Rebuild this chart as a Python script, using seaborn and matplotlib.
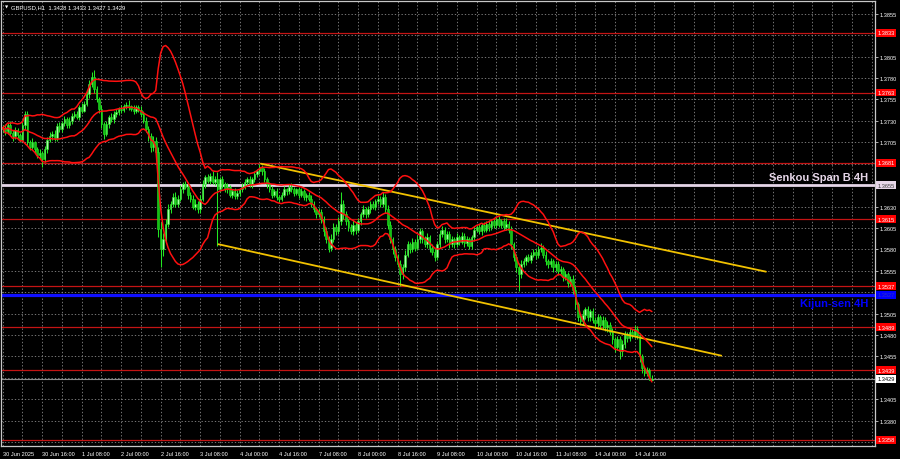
import numpy as np
import pandas as pd
import seaborn as sns
import matplotlib
matplotlib.use('Agg')
import matplotlib.pyplot as plt
import matplotlib.transforms as mtransforms

# GBPUSD H1, one bar per hour from 30 Jun 2025 00:00 (weekend skipped)
# closes as pips above 1.3000
close_pips = [
    722, 718, 725, 716, 712, 719, 714, 708, 725, 738,
    705, 700, 705, 697, 690, 693, 685, 697, 708, 712,
    715, 710, 724, 720, 728, 732, 725, 730, 736, 738,
    735, 746, 742, 750, 761, 773, 781, 767, 755, 744,
    726, 715, 726, 734, 732, 738, 740, 744, 743, 747,
    749, 747, 744, 742, 746, 743, 738, 730, 721, 712,
    699, 706, 694, 604, 580, 592, 610, 627, 633, 641,
    633, 639, 650, 656, 653, 644, 639, 630, 633, 627,
    639, 656, 664, 660, 666, 659, 662, 650, 662, 656,
    650, 653, 644, 648, 642, 646, 650, 653, 659, 662,
    656, 662, 668, 671, 676, 671, 662, 656, 650, 644,
    648, 641, 639, 644, 650, 648, 653, 650, 646, 650,
    644, 648, 641, 644, 639, 633, 627, 621, 624, 615,
    601, 592, 582, 592, 606, 601, 613, 633, 621, 613,
    606, 601, 609, 603, 613, 621, 627, 621, 627, 633,
    630, 636, 639, 633, 641, 627, 609, 592, 580, 571,
    563, 551, 559, 574, 586, 580, 589, 582, 592, 601,
    592, 586, 594, 582, 577, 571, 586, 598, 603, 592,
    598, 586, 592, 586, 594, 589, 596, 587, 592, 584,
    594, 603, 606, 601, 608, 603, 610, 606, 613, 608,
    615, 609, 613, 606, 610, 603, 586, 571, 559, 551,
    563, 566, 571, 568, 574, 577, 573, 580, 582, 574,
    566, 563, 566, 559, 563, 555, 557, 548, 551, 541,
    545, 533, 516, 501, 496, 504, 510, 501, 508, 498,
    494, 501, 492, 498, 489, 492, 484, 475, 466, 475,
    461, 469, 481, 477, 484, 480, 487, 480, 455, 441,
    436, 439, 428, 429,
]
first_open_pips = 720

# wick lengths in pips beyond the body
upper_wick = [
    3, 4, 2, 5, 3, 4, 3, 2, 6, 3,
    4, 3, 5, 2, 3, 4, 2, 4, 3, 5,
    3, 4, 3, 5, 2, 4, 3, 5, 3, 4,
    4, 3, 5, 3, 4, 5, 6, 8, 4, 3,
    5, 3, 4, 3, 5, 3, 4, 2, 4, 3,
    3, 5, 2, 4, 3, 2, 4, 3, 5, 3,
    4, 6, 5, 6, 8, 7, 5, 6, 4, 5,
    6, 4, 5, 3, 4, 5, 3, 4, 6, 3,
    4, 5, 3, 4, 3, 5, 4, 8, 3, 4,
    3, 4, 2, 3, 4, 3, 2, 4, 3, 3,
    4, 3, 4, 3, 4, 3, 4, 3, 3, 4,
    3, 4, 2, 3, 4, 2, 3, 4, 3, 2,
    3, 4, 3, 2, 3, 4, 3, 3, 4, 3,
    4, 5, 4, 6, 5, 4, 5, 14, 5, 4,
    3, 4, 5, 3, 4, 3, 5, 3, 4, 3,
    4, 3, 4, 3, 6, 4, 5, 4, 3, 4,
    4, 5, 4, 5, 4, 3, 4, 3, 5, 4,
    3, 4, 5, 3, 4, 3, 4, 5, 4, 3,
    4, 3, 4, 3, 5, 3, 4, 3, 4, 3,
    3, 4, 3, 4, 3, 4, 3, 4, 3, 4,
    3, 4, 3, 4, 7, 3, 4, 3, 4, 5,
    5, 4, 3, 4, 3, 4, 3, 4, 5, 3,
    4, 3, 4, 3, 4, 3, 4, 3, 4, 3,
    4, 5, 4, 3, 4, 5, 3, 4, 3, 4,
    3, 4, 3, 4, 3, 4, 3, 4, 3, 4,
    4, 5, 4, 3, 4, 3, 5, 4, 3, 3,
    3, 4, 2, 4,
]
lower_wick = [
    3, 4, 3, 2, 5, 3, 4, 3, 2, 4,
    3, 4, 3, 5, 3, 4, 9, 3, 4, 3,
    4, 3, 4, 3, 3, 4, 3, 3, 4, 3,
    3, 4, 3, 2, 3, 4, 3, 4, 3, 5,
    4, 6, 3, 4, 3, 4, 3, 3, 4, 3,
    3, 4, 3, 4, 3, 3, 4, 3, 4, 5,
    5, 4, 6, 10, 20, 8, 5, 4, 5, 3,
    4, 3, 3, 4, 3, 5, 4, 3, 4, 5,
    4, 3, 4, 3, 4, 3, 4, 66, 3, 4,
    3, 4, 3, 4, 3, 3, 4, 3, 3, 4,
    3, 4, 3, 3, 3, 4, 3, 4, 3, 4,
    3, 3, 4, 3, 3, 4, 3, 3, 4, 3,
    4, 3, 3, 4, 3, 4, 3, 4, 3, 4,
    5, 4, 5, 4, 3, 4, 3, 4, 5, 4,
    4, 3, 4, 5, 3, 4, 3, 4, 3, 4,
    3, 4, 3, 4, 3, 4, 5, 4, 5, 4,
    4, 14, 5, 4, 3, 4, 3, 4, 3, 4,
    4, 3, 4, 5, 4, 5, 3, 4, 3, 4,
    3, 4, 3, 4, 3, 4, 3, 4, 3, 4,
    3, 4, 3, 3, 4, 3, 3, 4, 3, 3,
    3, 3, 4, 3, 3, 4, 5, 4, 5, 20,
    4, 3, 4, 3, 4, 3, 4, 3, 3, 4,
    4, 5, 4, 5, 4, 5, 4, 5, 4, 5,
    4, 5, 6, 5, 4, 4, 5, 4, 5, 4,
    4, 5, 4, 5, 4, 5, 4, 5, 6, 4,
    9, 5, 4, 5, 4, 4, 3, 5, 6, 5,
    4, 4, 1, 1,
]

tick_pos = [0, 16, 32, 48, 64, 80, 96, 112, 128, 144, 160, 176, 192, 208, 224, 240, 256]
tick_text = ['30 Jun 2025', '30 Jun 16:00', '1 Jul 08:00', '2 Jul 00:00', '2 Jul 16:00',
             '3 Jul 08:00', '4 Jul 00:00', '4 Jul 16:00', '7 Jul 08:00', '8 Jul 00:00',
             '8 Jul 16:00', '9 Jul 08:00', '10 Jul 00:00', '10 Jul 16:00', '11 Jul 08:00',
             '14 Jul 00:00', '14 Jul 16:00']
# price grid; labels hidden where a level tag sits on top of them
price_ticks = [1.3355, 1.3380, 1.3405, 1.3430, 1.3455, 1.3480, 1.3505, 1.3530, 1.3555,
               1.3580, 1.3605, 1.3630, 1.3655, 1.3680, 1.3705, 1.3730, 1.3755, 1.3780,
               1.3805, 1.3830, 1.3855]
hidden_ticks = [1.3355, 1.3430, 1.3530, 1.3655, 1.3680, 1.3830]

red_levels = [1.3833, 1.3763, 1.3681, 1.3615, 1.3537, 1.3489, 1.3439, 1.3358]
senkou_b = 1.3655
kijun = 1.3527
last_price = 1.3429

# descending channel anchors (bar index, price)
chan_upper_x = [104.6, 309.2]
chan_upper_y = [1.3680, 1.3554]
chan_lower_x = [87.4, 291.1]
chan_lower_y = [1.3586, 1.3456]

# ---- build candles
df = pd.DataFrame({'bar': np.arange(len(close_pips)),
                   'close': 1.3 + np.array(close_pips) / 10000})
df['open'] = df['close'].shift(1).fillna(1.3 + first_open_pips / 10000)
df['high'] = df[['open', 'close']].max(axis=1) + np.array(upper_wick) / 10000
df['low'] = df[['open', 'close']].min(axis=1) - np.array(lower_wick) / 10000

# Bollinger bands 20, 2
mid = df['close'].rolling(20, min_periods=1).mean()
sd = df['close'].rolling(20, min_periods=1).std(ddof=0)
df['bb_mid'] = mid
df['bb_up'] = mid + 2 * sd
df['bb_dn'] = mid - 2 * sd

sns.set_style('dark', {'axes.facecolor': 'black', 'figure.facecolor': 'black'})
plt.rcParams['font.family'] = ['Liberation Sans', 'DejaVu Sans']

fig = plt.figure(figsize=(9, 4.6), dpi=100)
ax = fig.add_axes([1.3 / 900, 13.3 / 460, 873.7 / 900, 445 / 460])
ax.set_facecolor('black')

# grid
ax.set_xlim(-0.57, 353.4)
ax.set_ylim(1.33509, 1.38702)
ax.set_xticks(tick_pos)
ax.set_xticklabels(tick_text, ha='left')
ax.set_xticks(range(0, 353, 8), minor=True)
ax.set_yticks(price_ticks)
ax.set_yticklabels(['' if p in hidden_ticks else f'{p:.4f}' for p in price_ticks])
ax.yaxis.tick_right()
grid_kw = dict(color='#8a8a8a', linestyle=(0, (1.6, 2.4)), linewidth=0.6)
ax.grid(True, which='both', axis='x', **grid_kw)
ax.grid(True, which='major', axis='y', **grid_kw)
ax.tick_params(axis='x', which='major', colors='#c8c8c8', labelcolor='white',
               labelsize=4.1, length=2.5, width=0.6, pad=1.5)
ax.tick_params(axis='x', which='minor', length=0)
ax.tick_params(axis='y', colors='#c8c8c8', labelcolor='white',
               labelsize=4.1, length=2, width=0.6, pad=1.5)
for s in ax.spines.values():
    s.set_color('#c8c8c8')
    s.set_linewidth(0.9)

# horizontal levels
for lv in red_levels:
    ax.axhline(lv, color='#c41414', lw=0.9, zorder=2)
ax.axhline(senkou_b, color='#e6d6e8', lw=2.0, zorder=2)
ax.axhline(kijun, color='#1010ff', lw=2.3, zorder=2)
ax.axhline(last_price, color='#8c8c8c', lw=0.8, zorder=2)

# channel
ax.plot(chan_upper_x, chan_upper_y, color='#f2c200', lw=1.3, zorder=4)
ax.plot(chan_lower_x, chan_lower_y, color='#f2c200', lw=1.3, zorder=4)

# candles
body_lo = df[['open', 'close']].min(axis=1)
body_h = (df['close'] - df['open']).abs().clip(lower=0.00003)
bull = df['close'] >= df['open']
ax.vlines(df['bar'], df['low'], df['high'], color='#22e622', lw=0.75, zorder=3)
ax.bar(df['bar'][bull], body_h[bull], bottom=body_lo[bull], width=0.62,
       color='#a6ffa6', edgecolor='#22e622', linewidth=0.4, zorder=3)
ax.bar(df['bar'][~bull], body_h[~bull], bottom=body_lo[~bull], width=0.62,
       color='#14c014', edgecolor='#22e622', linewidth=0.4, zorder=3)

# Bollinger lines
for col in ['bb_up', 'bb_mid', 'bb_dn']:
    sns.lineplot(data=df, x='bar', y=col, color='#ff1010', lw=1.1, ax=ax, zorder=5)
ax.set_xlabel('')
ax.set_ylabel('')

# price labels on the right scale
tr = mtransforms.blended_transform_factory(ax.transAxes, ax.transData)
def tag(price, fc, tc):
    ax.text(1.0025, price, f'{price:.4f}', transform=tr, fontsize=4.1, color=tc,
            ha='left', va='center', clip_on=False, zorder=10,
            bbox=dict(boxstyle='square,pad=0.25', fc=fc, ec='none'))

for lv in red_levels:
    tag(lv, '#ff0000', 'white')
tag(senkou_b, '#e6d6e8', '#404040')
tag(kijun, '#0000ff', '#3030c0')
tag(last_price, 'white', 'black')

ax.text(0.992, senkou_b + 0.0009, 'Senkou Span B 4H', transform=tr, fontsize=8,
        fontweight='bold', color='#e6d6e8', ha='right', va='center', zorder=10)
ax.text(0.992, kijun - 0.0010, 'Kijun-sen 4H', transform=tr, fontsize=8,
        fontweight='bold', color='#0000ff', ha='right', va='center', zorder=10)

ax.text(0.0055, 0.986, '\u25BC', transform=ax.transAxes, fontsize=3, color='white',
        ha='center', va='center', family=['DejaVu Sans'])
ax.text(0.0115, 0.986, 'GBPUSD,H1  1.3428 1.3433 1.3427 1.3429', transform=ax.transAxes,
        fontsize=4.2, color='white', ha='left', va='center')

fig.savefig('out.png', dpi=100, facecolor='black')
